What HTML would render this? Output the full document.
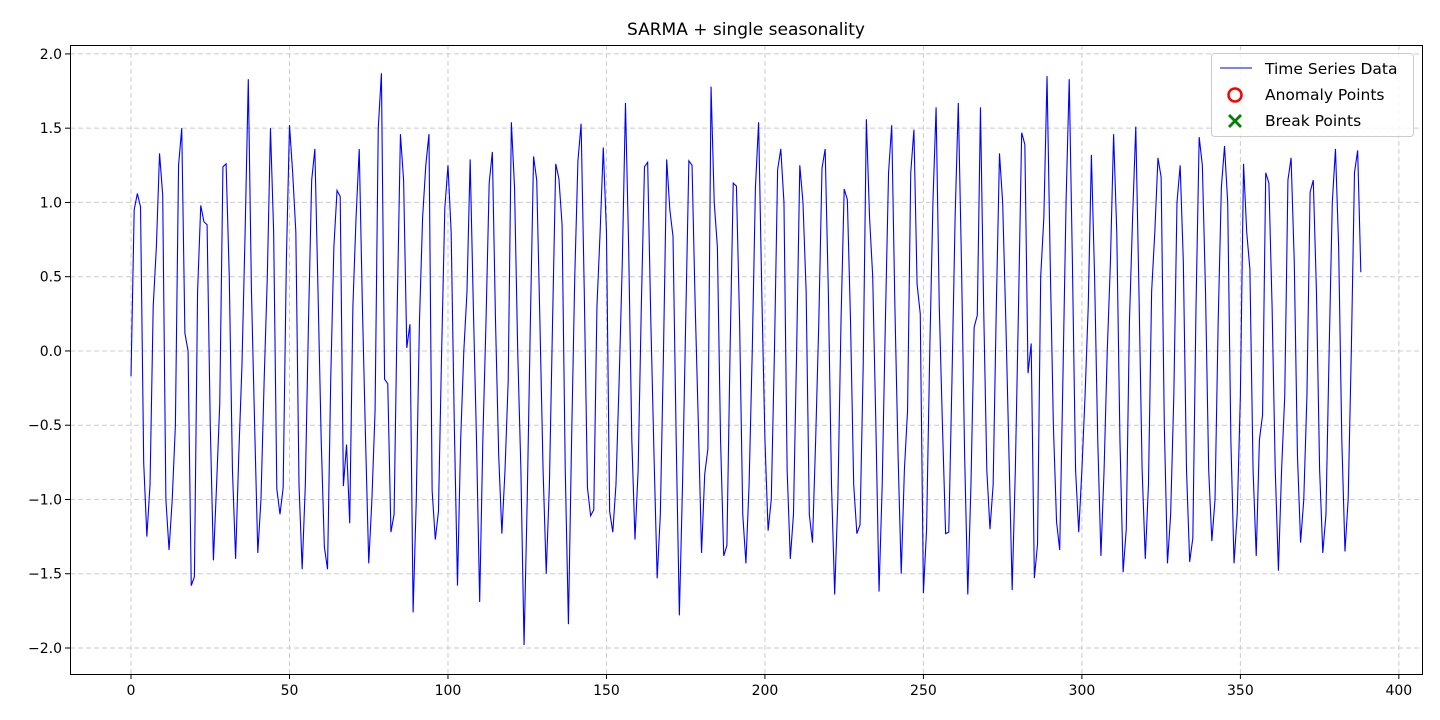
<!DOCTYPE html>
<html><head><meta charset="utf-8"><style>
html,body{margin:0;padding:0;background:#fff;}
svg{display:block;font-family:"DejaVu Sans","Liberation Sans",sans-serif;}
</style></head><body>
<svg id="chart" width="1440" height="720" viewBox="0 0 1440 720" xmlns="http://www.w3.org/2000/svg">
<rect width="1440" height="720" fill="#fff"/>
<text x="746" y="35" font-size="17" text-anchor="middle" fill="#000">SARMA + single seasonality</text>
<g id="grid"></g>
<g id="axes"></g>
<polyline id="series" fill="none" stroke="#0000ff" stroke-width="1.1"/>
<rect x="70.5" y="45.5" width="1352" height="629" fill="none" stroke="#000" stroke-width="1"/>
<g>
<rect x="1211.5" y="53.5" width="202" height="83" rx="3" fill="#fff" fill-opacity="0.8" stroke="#ccc"/>
<g>
<line x1="1220" y1="68" x2="1252" y2="68" stroke="#0000ff" stroke-width="1.1"/>
<text x="1265" y="74" font-size="15.5" fill="#000">Time Series Data</text></g>
<g>
<circle cx="1235" cy="95" r="6.5" fill="none" stroke="#ff0000" stroke-width="2.5"/>
<text x="1265" y="100" font-size="15.5" fill="#000">Anomaly Points</text></g>
<g>
<path d="M1229 115 L1241 127 M1241 115 L1229 127" stroke="#008000" stroke-width="2.8"/>
<text x="1265" y="126" font-size="15.5" fill="#000">Break Points</text></g>
</g>
</svg>
<script>
const values = [-0.17,0.95,1.06,0.97,-0.75,-1.25,-0.9,0.3,0.7,1.33,
1.05,-1.0,-1.34,-1.0,-0.5,1.25,1.5,0.12,0.0,-1.58,
-1.52,0.4,0.98,0.87,0.85,-0.5,-1.41,-0.9,-0.35,1.24,
1.26,0.5,-0.8,-1.40,-0.7,-0.1,0.8,1.83,0.4,-0.5,
-1.36,-1.0,-0.2,0.5,1.5,0.8,-0.93,-1.10,-0.92,0.6,
1.52,1.2,0.8,-0.9,-1.47,-0.9,0.2,1.15,1.36,0.4,
-0.6,-1.32,-1.47,-0.2,0.7,1.08,1.04,-0.91,-0.63,-1.16,
0.3,0.9,1.36,0.3,-0.6,-1.43,-1.0,-0.4,1.5,1.87,
-0.19,-0.22,-1.22,-1.1,0.3,1.46,1.15,0.02,0.18,-1.76,
-1.0,0.2,0.9,1.25,1.46,-0.94,-1.27,-1.08,0.0,0.96,
1.25,0.8,-0.5,-1.58,-0.6,0.0,0.4,1.29,0.3,-0.6,
-1.69,-0.6,0.2,1.13,1.34,0.2,-0.7,-1.23,-0.8,-0.2,
1.54,1.1,0.0,-0.8,-1.98,-1.0,0.2,1.31,1.15,0.2,
-0.8,-1.5,-0.9,0.2,1.26,1.16,0.85,-0.8,-1.84,-0.6,
0.5,1.28,1.53,0.4,-0.92,-1.11,-1.07,0.3,0.8,1.37,
0.8,-1.08,-1.22,-0.9,-0.2,0.6,1.67,0.7,-0.6,-1.27,
-0.8,0.3,1.24,1.27,0.2,-0.7,-1.53,-1.1,0.0,1.29,
0.95,0.77,-0.6,-1.78,-0.9,0.2,1.28,1.25,0.3,-0.5,
-1.36,-0.83,-0.66,1.78,1.0,0.7,-0.6,-1.38,-1.31,0.0,
1.13,1.11,0.2,-1.1,-1.43,-0.9,0.0,1.1,1.54,0.4,
-0.6,-1.21,-1.0,0.0,1.22,1.36,1.0,-0.8,-1.4,-1.1,
0.0,1.25,1.0,0.4,-1.1,-1.29,-0.6,0.2,1.23,1.36,
0.4,-0.9,-1.64,-1.0,0.2,1.09,1.02,0.2,-0.9,-1.23,
-1.17,-0.1,1.56,0.9,0.5,-0.5,-1.62,-0.9,0.2,1.2,
1.52,0.3,-0.7,-1.5,-0.8,-0.4,1.2,1.49,0.45,0.25,
-1.63,-1.2,0.0,1.0,1.64,0.3,-0.5,-1.23,-1.22,-0.2,
0.9,1.67,0.6,-0.7,-1.64,-0.9,0.16,0.24,1.64,0.3,
-0.8,-1.2,-0.9,0.3,1.33,1.0,0.2,-0.7,-1.61,-0.8,
0.3,1.47,1.39,-0.15,0.05,-1.53,-1.3,0.5,0.9,1.85,
0.6,-0.5,-1.15,-1.34,-0.2,1.0,1.83,0.6,-0.8,-1.22,
-0.8,-0.3,0.3,1.32,0.5,-0.6,-1.38,-0.8,0.0,0.6,
1.46,0.8,-0.6,-1.49,-1.2,0.2,0.9,1.51,0.4,-0.8,
-1.4,-0.9,0.4,0.8,1.30,1.17,-0.5,-1.43,-1.1,-0.3,
1.0,1.25,0.6,-0.8,-1.42,-1.26,0.3,1.44,1.25,0.4,
-0.8,-1.28,-1.0,0.2,1.1,1.38,1.0,-0.6,-1.43,-1.1,
-0.3,1.26,0.8,0.55,-0.8,-1.38,-0.6,-0.43,1.2,1.13,
0.3,-0.8,-1.48,-0.8,-0.3,1.15,1.3,0.6,-0.7,-1.29,
-1.0,-0.3,1.07,1.15,0.4,-0.8,-1.36,-1.1,0.0,1.0,
1.36,0.7,-0.6,-1.35,-1.0,0.0,1.2,1.35,0.53];
const xTicks = [0,50,100,150,200,250,300,350,400];
const yTicks = [-2.0,-1.5,-1.0,-0.5,0.0,0.5,1.0,1.5,2.0];

const X0=70, X1=1422, Y0=45, Y1=674;
const xMin=-19.25, xMax=407.3, yMin=-2.175, yMax=2.06;
function sx(v){return X0+(v-xMin)/(xMax-xMin)*(X1-X0);}
function sy(v){return Y1-(v-yMin)/(yMax-yMin)*(Y1-Y0);}
const NS='http://www.w3.org/2000/svg';
const grid=document.getElementById('grid'), axes=document.getElementById('axes');
function mk(tag,attrs,parent){const e=document.createElementNS(NS,tag);for(const k in attrs)e.setAttribute(k,attrs[k]);parent.appendChild(e);return e;}
xTicks.forEach(t=>{
  const x=sx(t);
  const g=mk('line',{x1:x,x2:x,y1:Y0,y2:Y1,stroke:'#cccccc','stroke-dasharray':'5,3','stroke-width':1},grid);
  
  
  const tk=mk('line',{x1:x,x2:x,y1:Y1,y2:Y1+5,stroke:'#000'},axes);
  
  
  const lb=mk('text',{x:x,y:Y1+21,'font-size':14,'text-anchor':'middle',fill:'#000'},axes);
  lb.textContent=String(t);
  
  
});
yTicks.forEach(t=>{
  const y=sy(t);
  const g=mk('line',{x1:X0,x2:X1,y1:y,y2:y,stroke:'#cccccc','stroke-dasharray':'5,3','stroke-width':1},grid);
  
  
  const tk=mk('line',{x1:X0-5,x2:X0,y1:y,y2:y,stroke:'#000'},axes);
  
  
  const lb=mk('text',{x:X0-8,y:y+5,'font-size':14,'text-anchor':'end',fill:'#000'},axes);
  lb.textContent=(t<0?'\u2212':'')+Math.abs(t).toFixed(1);
  
  
});
document.getElementById('series').setAttribute('points',values.map((v,i)=>sx(i).toFixed(2)+','+sy(v).toFixed(2)).join(' '));
</script>
</body></html>
